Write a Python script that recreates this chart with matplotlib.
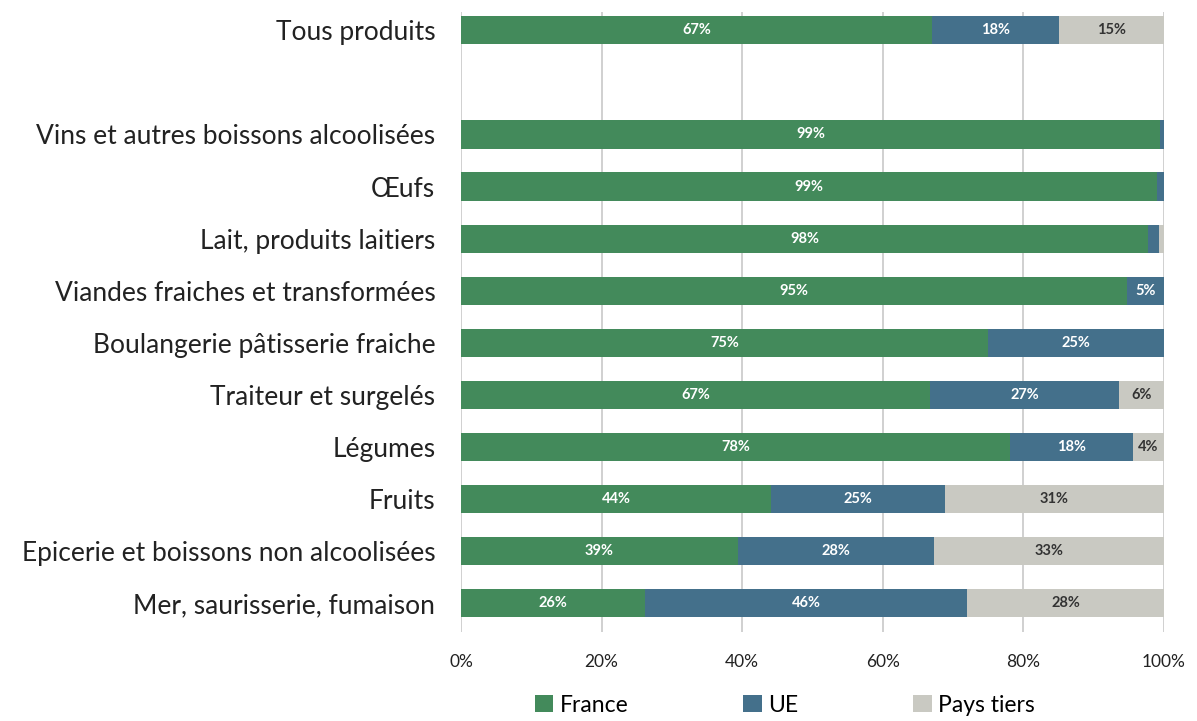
import matplotlib.pyplot as plt
from matplotlib.ticker import PercentFormatter

# data (share of supply, %)
categories = [
    "Tous produits",
    "",
    "Vins et autres boissons alcoolisées",
    "Œufs",
    "Lait, produits laitiers",
    "Viandes fraiches et transformées",
    "Boulangerie pâtisserie fraiche",
    "Traiteur et surgelés",
    "Légumes",
    "Fruits",
    "Epicerie et boissons non alcoolisées",
    "Mer, saurisserie, fumaison",
]
france = [67.0, 0, 99.4, 99.0, 97.7, 94.7, 75.0, 66.7, 78.1, 44.1, 39.4, 26.2]
ue = [18.1, 0, 0.6, 1.0, 1.6, 5.3, 25.0, 26.9, 17.5, 24.7, 27.9, 45.8]
tiers = [14.9, 0, 0.0, 0.0, 0.7, 0.0, 0.0, 6.4, 4.4, 31.2, 32.7, 28.0]
labels_fr = ["67%", "", "99%", "99%", "98%", "95%", "75%", "67%", "78%", "44%", "39%", "26%"]
labels_ue = ["18%", "", "", "", "", "5%", "25%", "27%", "18%", "25%", "28%", "46%"]
labels_pt = ["15%", "", "", "", "", "", "", "6%", "4%", "31%", "33%", "28%"]

GREEN = "#438a5b"
BLUE = "#44708b"
GREY = "#c9c9c2"

plt.rcParams["font.family"] = ["Lato", "DejaVu Sans"]

fig = plt.figure(figsize=(11.97, 7.21), dpi=100)
ax = fig.add_axes([461 / 1197, 1 - 632 / 721, 703 / 1197, 620 / 721])

ypos = list(range(len(categories)))
h = 0.54
series = [(france, GREEN, labels_fr, "white", "France"),
          (ue, BLUE, labels_ue, "white", "UE"),
          (tiers, GREY, labels_pt, "#333333", "Pays tiers")]
left = [0.0] * len(categories)
for vals, col, labs, tcol, name in series:
    bars = ax.barh(ypos, vals, left=left, height=h, color=col, label=name,
                   edgecolor="none", zorder=3)
    for b, lab in zip(bars, labs):
        if lab:
            ax.text(b.get_x() + b.get_width() / 2, b.get_y() + b.get_height() / 2,
                    lab, ha="center", va="center", color=tcol, fontsize=10.5,
                    fontweight="bold", zorder=4)
    left = [l + v for l, v in zip(left, vals)]

ax.set_xlim(0, 100)
ax.set_ylim(11.55, -0.35)
ax.set_xticks([0, 20, 40, 60, 80, 100])
ax.xaxis.set_major_formatter(PercentFormatter(decimals=0))
ax.set_yticks(ypos)
ax.set_yticklabels(categories, fontsize=19, color="#222222")
ax.tick_params(axis="y", length=0, pad=18.5)
ax.tick_params(axis="x", length=0, labelsize=12.5, pad=16, colors="#222222")
ax.grid(axis="x", color="#c8c8c8", linewidth=1.2, zorder=0)
for s in ax.spines.values():
    s.set_visible(False)

fig.legend(loc="center", bbox_to_anchor=(785 / 1197, 1 - 705 / 721), ncol=3,
           frameon=False, fontsize=16.5, handlelength=0.8, handleheight=0.8,
           handletextpad=0.3, columnspacing=5.0)

fig.savefig("out.png", dpi=100)
